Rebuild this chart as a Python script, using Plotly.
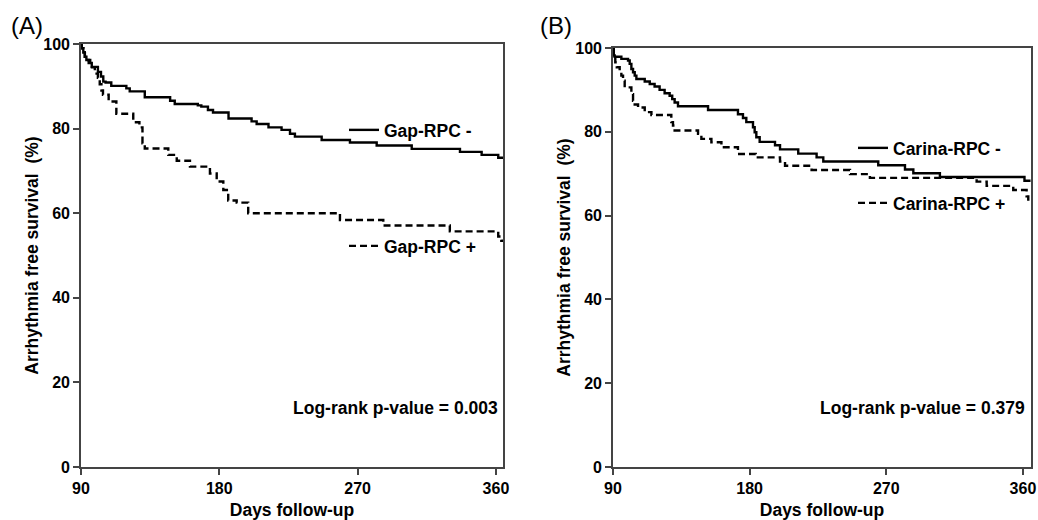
import plotly.graph_objects as go

# ---- data ----
days_gap_neg = [90, 90.5, 91.5, 92.5, 93.5, 95, 97, 101, 103, 104.5, 106, 109.7, 119.5, 121.7, 131.5,
                148, 151, 166, 168.3, 172.6, 175.9, 186, 201, 204.3, 212, 220.5, 226, 229.2, 246.6,
                265, 282.4, 305.2, 336.6, 350.7, 361.5, 365]
surv_gap_neg = [100, 99, 98, 97, 96.2, 95.5, 94.6, 93.4, 92.3, 91.1, 90.9, 90.1, 89.5, 88.8, 87.4,
                86.6, 85.8, 85.5, 85.2, 84.4, 83.8, 82.4, 81.7, 81.1, 80.3, 79.7, 78.8, 78.1, 77.3,
                76.7, 76.0, 75.2, 74.5, 73.8, 73.1, 73.1]

days_gap_pos = [90, 90.5, 91.5, 92.5, 93.5, 96, 99, 101, 102.2, 103.3, 104.3, 108, 113, 124, 128, 130,
                131.5, 146.8, 152.3, 160.9, 173.9, 178.3, 182.6, 185.8, 191.3, 198.8, 258.5, 286.7,
                330, 361.5, 363.5, 365]
surv_gap_pos = [100, 99, 98, 97, 96.2, 94.5, 93, 92, 90.5, 89, 88, 86.4, 83.5, 81.5, 80.3, 76.5,
                75.3, 73.8, 72.4, 71, 69.4, 67.5, 65.5, 63, 62.5, 60, 58.4, 57.1,
                55.7, 54.5, 53.5, 53.5]

days_car_neg = [90, 90.5, 91.1, 95.5, 99.9, 101, 102.1, 103.2, 104.3, 105.4, 110.9, 114.2, 117.4,
                120.7, 124, 127.3, 129, 130.6, 132.8, 152.6, 172.3, 175.6, 177.8, 182.2, 183.3,
                184.4, 186.6, 196.7, 200, 212, 224.1, 228.5, 264.7, 282.3, 287.8, 305.3, 361, 365]
surv_car_neg = [100, 98.2, 97.9, 97.4, 97.0, 96.2, 95.0, 94.2, 93.4, 92.6, 92.0, 91.4, 90.8,
                90.0, 89.2, 88.6, 87.8, 87.0, 86.1, 85.2, 84.2, 83.3, 82.3, 81.1, 79.9,
                78.7, 77.6, 76.8, 75.8, 74.8, 73.9, 72.9, 72.0, 71.0, 70.1, 69.2, 68.3, 68.3]

days_car_pos = [90, 90.5, 91.5, 92.5, 94.4, 95.5, 96.6, 97.7, 102.1, 103.2, 104.3, 106.5, 110.9,
                115.3, 128.4, 129.5, 130.6, 146, 148.2, 154.8, 161.4, 172.3, 184, 200, 203.3,
                220.8, 246.1, 259.2, 329.5, 336.1, 353.6, 362.4, 363.5, 365]
surv_car_pos = [100, 98, 96.6, 95.4, 94.6, 93.4, 92.2, 90.6, 89, 87.4, 86.5, 85.8, 84.7,
                84.0, 82.3, 81.5, 80.3, 79.5, 78.3, 77.5, 76.3, 74.7, 73.9, 72.9, 71.9,
                70.9, 69.9, 69.0, 68.1, 67.1, 66.1, 64.6, 63.5, 63.5]

x_ticks = [90, 180, 270, 360]
y_ticks = [0, 20, 40, 60, 80, 100]
pvalues = ["Log-rank p-value = 0.003", "Log-rank p-value = 0.379"]
panel_labels = ["(A)", "(B)"]

FONT = "Arial, Liberation Sans, Helvetica, sans-serif"
AXC = "#444444"

fig = go.Figure()

def add_curve(x, y, name, dash, xa, ya, legend):
    fig.add_trace(go.Scatter(
        x=x, y=y, mode="lines", line=dict(color="black", width=2.4, dash=dash, shape="hv"),
        name=name, xaxis=xa, yaxis=ya, legend=legend, showlegend=True, hoverinfo="x+y"))

add_curve(days_gap_neg, surv_gap_neg, "Gap-RPC -", "solid", "x", "y", "legend")
add_curve(days_gap_pos, surv_gap_pos, "Gap-RPC +", "7px,4px", "x", "y", "legend2")
add_curve(days_car_neg, surv_car_neg, "Carina-RPC -", "solid", "x2", "y2", "legend3")
add_curve(days_car_pos, surv_car_pos, "Carina-RPC +", "7px,4px", "x2", "y2", "legend4")

W, H = 1038, 520
def px2x(p): return p / W
def px2y(p): return (H - p) / H

TXT = 17.5
axis_common = dict(showgrid=False, zeroline=False, showline=True, linecolor=AXC, linewidth=1.6,
                   mirror=True, ticks="outside", ticklen=6, tickwidth=1.6, tickcolor=AXC,
                   automargin=False,
                   tickfont=dict(family=FONT, size=16, color="black", weight="bold"))

title_font = dict(family=FONT, size=TXT, color="black", weight="bold")

leg_common = dict(font=dict(family=FONT, size=TXT, color="black", weight="bold"),
                  bgcolor="rgba(0,0,0,0)", borderwidth=0, itemwidth=30, xanchor="left",
                  yanchor="middle", tracegroupgap=0)

fig.update_layout(
    width=W, height=H, margin=dict(l=0, r=0, t=0, b=0, autoexpand=False),
    plot_bgcolor="white", paper_bgcolor="white",
    xaxis=dict(domain=[px2x(81), px2x(503)], range=[90, 364.6], tickvals=x_ticks,
               title=dict(text="Days follow-up", font=title_font, standoff=8), anchor="y",
               **axis_common),
    yaxis=dict(domain=[px2y(467), px2y(44)], range=[0, 100], tickvals=y_ticks,
               title=dict(text="Arrhythmia free survival  (%)", font=title_font, standoff=0),
               anchor="x", **axis_common),
    xaxis2=dict(domain=[px2x(613), px2x(1031)], range=[90, 365.3], tickvals=x_ticks,
                title=dict(text="Days follow-up", font=title_font, standoff=8), anchor="y2",
                **axis_common),
    yaxis2=dict(domain=[px2y(467), px2y(48)], range=[0, 100], tickvals=y_ticks,
                title=dict(text="Arrhythmia free survival  (%)", font=title_font, standoff=0),
                anchor="x2", **axis_common),
    legend=dict(x=px2x(344), y=px2y(130), **leg_common),
    legend2=dict(x=px2x(344), y=px2y(246), **leg_common),
    legend3=dict(x=px2x(853), y=px2y(148), **leg_common),
    legend4=dict(x=px2x(853), y=px2y(203), **leg_common),
    showlegend=True,
)

fig.add_annotation(text=pvalues[0], x=px2x(500), y=px2y(408), xref="paper", yref="paper",
                   xanchor="right", yanchor="middle", showarrow=False, font=title_font)
fig.add_annotation(text=pvalues[1], x=px2x(1027), y=px2y(408), xref="paper", yref="paper",
                   xanchor="right", yanchor="middle", showarrow=False, font=title_font)
fig.add_annotation(text=panel_labels[0], x=px2x(9), y=px2y(25), xref="paper", yref="paper",
                   xanchor="left", yanchor="middle", showarrow=False,
                   font=dict(family=FONT, size=24, color="black"))
fig.add_annotation(text=panel_labels[1], x=px2x(538), y=px2y(25), xref="paper", yref="paper",
                   xanchor="left", yanchor="middle", showarrow=False,
                   font=dict(family=FONT, size=24, color="black"))

# remove the page's default 8px body margin so the figure fills the window exactly
fig.write_html("out.html", config={"displayModeBar": False},
               post_script="document.body.style.margin='0';document.body.style.overflow='hidden';")
